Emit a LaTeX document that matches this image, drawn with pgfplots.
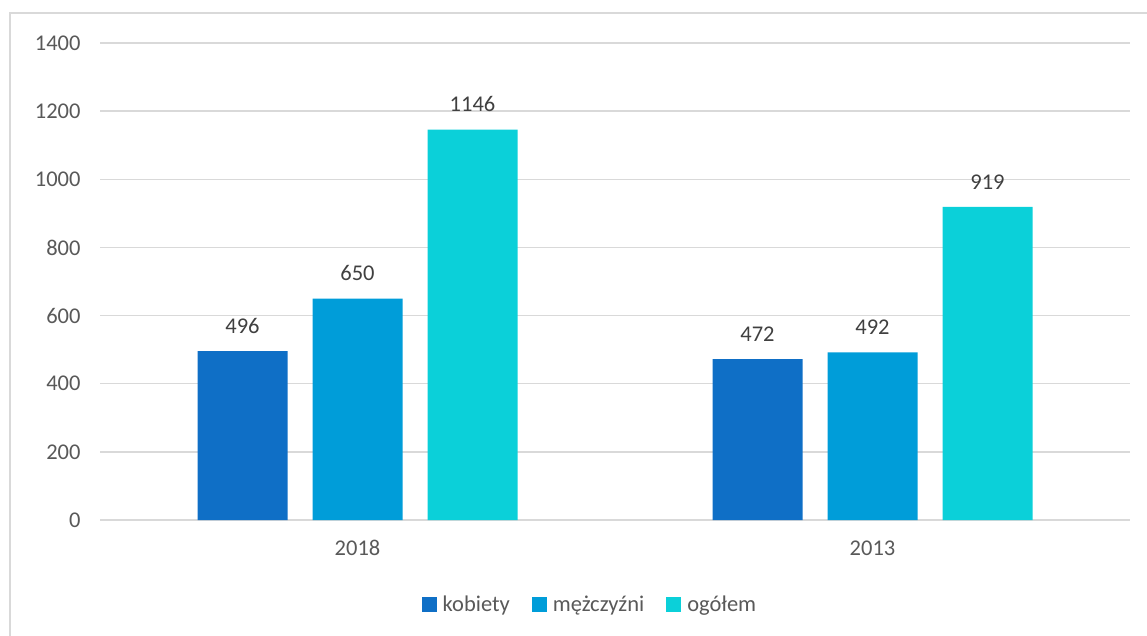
\documentclass[border=0pt]{standalone}
\usepackage{pgfplots}
\pgfplotsset{compat=1.18}
\usepackage{fontspec}
\setmainfont{Carlito}
\definecolor{cA}{HTML}{0F6FC6}
\definecolor{cB}{HTML}{009DD9}
\definecolor{cC}{HTML}{0BD0D9}
\definecolor{txt}{HTML}{595959}
\definecolor{lbl}{HTML}{404040}
\definecolor{gridc}{HTML}{D9D9D9}
\begin{document}
\begin{tikzpicture}[x=1pt,y=1pt]
\useasboundingbox (0,0) rectangle (1147,635);
\draw[gridc, line width=1.5pt] (10,-2) -- (10,622) -- (1149,622);
\begin{axis}[
  at={(100pt,115pt)}, anchor=south west,
  width=1030pt, height=477pt, scale only axis,
  ymin=0, ymax=1400, xmin=-0.5, xmax=1.5,
  xtick={0,1}, xticklabels={2018,2013},
  ytick={0,200,...,1400},
  axis line style={draw=none},
  ymajorgrids, grid style={gridc, line width=1.3pt},
  major tick length=0pt,
  tick label style={font=\fontsize{22.5}{26}\selectfont, text=txt},
  yticklabel style={xshift=-16pt},
  xticklabel style={yshift=-17pt},
  /pgf/number format/assume math mode=true,
  /pgf/number format/1000 sep={},
  ybar=25pt, bar width=90pt,
  nodes near coords,
  every node near coord/.append style={font=\fontsize{22.5}{26}\selectfont, text=lbl, yshift=14pt,
    /pgf/number format/1000 sep={}},
  legend columns=3,
  legend style={draw=none, at={(0.4757,-0.178)}, anchor=center,
    font=\fontsize{22.5}{26}\selectfont, text=txt,
    /tikz/every odd column/.append style={column sep=4pt},
    /tikz/every even column/.append style={column sep=20pt}},
  legend image code/.code={\fill[#1] (0pt,-7pt) rectangle (15pt,8pt);},
]
\addplot[fill=cA, draw=none] coordinates {(0,496) (1,472)};
\addplot[fill=cB, draw=none] coordinates {(0,650) (1,492)};
\addplot[fill=cC, draw=none] coordinates {(0,1146) (1,919)};
\legend{kobiety, mężczyźni, ogółem}
\end{axis}
\end{tikzpicture}
\end{document}
